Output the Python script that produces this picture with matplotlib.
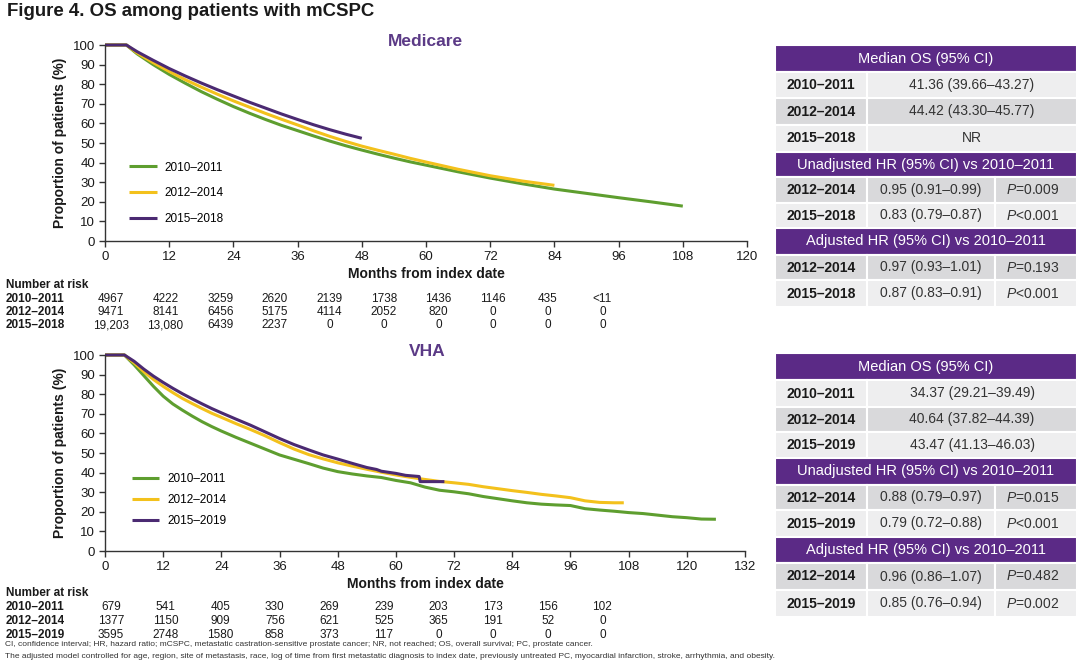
import matplotlib
matplotlib.use("Agg")
import matplotlib.pyplot as plt
from matplotlib import font_manager
from matplotlib.patches import Rectangle

# ---------------- data ----------------
months_ticks_top = [0, 12, 24, 36, 48, 60, 72, 84, 96, 108, 120]
months_ticks_bot = [0, 12, 24, 36, 48, 60, 72, 84, 96, 108, 120, 132]
y_ticks = [0, 10, 20, 30, 40, 50, 60, 70, 80, 90, 100]

labels_top = ["2010–2011", "2012–2014", "2015–2018"]
labels_bot = ["2010–2011", "2012–2014", "2015–2019"]

# Medicare KM curves (months, % surviving)
med_m_1011 = [0, 4, 6, 9, 12, 15, 18, 21, 24, 27, 30, 33, 36, 39, 42, 45, 48, 51, 54, 57, 60,
              66, 72, 78, 84, 90, 96, 102, 108]
med_v_1011 = [100, 100, 95.5, 90, 85, 80.5, 76.2, 72.3, 68.6, 65.2, 62, 59, 56.3, 53.6, 51.0, 48.6,
              46.4, 44.3, 42.3, 40.4, 38.7, 35.3, 32.1, 29.2, 26.5, 24.3, 22.1, 20, 17.8]
med_m_1214 = [0, 4, 6, 9, 12, 15, 18, 21, 24, 27, 30, 33, 36, 39, 42, 45, 48, 51, 54, 57, 60,
              66, 72, 78, 84]
med_v_1214 = [100, 100, 96, 91, 86.5, 82.3, 78.5, 74.9, 71.5, 68.3, 65.1, 62.1, 59.2, 56.2, 53.4,
              50.8, 48.4, 46.3, 44.3, 42.2, 40.3, 36.6, 33.3, 30.6, 28.4]
med_m_1518 = [0, 4, 6, 9, 12, 15, 18, 21, 24, 27, 30, 33, 36, 39, 42, 45, 48]
med_v_1518 = [100, 100, 96.6, 92.2, 88, 84.2, 80.6, 77.2, 74, 70.8, 67.8, 64.8, 62, 59.3, 56.8,
              54.5, 52.4]

# VHA KM curves
vha_m_1011 = [0, 4, 6, 8, 10, 12, 14, 16, 18, 20, 22, 24, 27, 30, 33, 36, 39, 42, 45, 48, 51, 54,
              57, 60, 63, 66, 69, 72, 75, 78, 81, 84, 87, 90, 93, 96, 99, 102, 105, 108, 111, 114,
              117, 120, 123, 126]
vha_v_1011 = [100, 100, 95, 89.5, 84, 79, 75, 71.8, 68.8, 66, 63.5, 61.2, 58, 55, 52, 49, 46.8,
              44.6, 42.3, 40.5, 39.3, 38.3, 37.5, 36, 34.8, 32.6, 31, 30.2, 29.2, 27.8, 26.7, 25.6,
              24.6, 23.9, 23.5, 23.2, 21.6, 20.9, 20.3, 19.6, 19.1, 18.3, 17.5, 17, 16.3, 16.2]
vha_m_1214 = [0, 4, 6, 8, 10, 12, 14, 16, 18, 20, 22, 24, 27, 30, 33, 36, 39, 42, 45, 48, 51, 54,
              57, 60, 63, 66, 69, 72, 75, 78, 81, 84, 87, 90, 93, 96, 99, 102, 105, 107]
vha_v_1214 = [100, 100, 96, 91.5, 87.5, 84, 80.8, 77.8, 75.2, 72.7, 70.3, 68.2, 65, 62, 58.8, 55.3,
              52, 49.2, 47, 45, 43.3, 41.7, 40.2, 38.8, 37.6, 36.5, 35.5, 34.8, 34, 32.8, 31.8,
              30.8, 29.9, 28.9, 28.1, 27.2, 25.6, 24.8, 24.6, 24.6]
vha_m_1519 = [0, 4, 6, 8, 10, 12, 14, 16, 18, 20, 22, 24, 27, 30, 33, 36, 39, 42, 45, 48, 51, 54,
              56, 57, 60, 62, 64.8, 65, 70]
vha_v_1519 = [100, 100, 96.8, 92.8, 89.2, 86, 83, 80.2, 77.6, 75.1, 72.7, 70.5, 67.3, 64.2, 60.8,
              57.4, 54.3, 51.6, 49, 46.9, 44.7, 42.6, 41.6, 40.7, 39.6, 38.6, 38, 35.4, 35.4]

# Number at risk
risk_top_1011 = ["4967", "4222", "3259", "2620", "2139", "1738", "1436", "1146", "435", "<11"]
risk_top_1214 = ["9471", "8141", "6456", "5175", "4114", "2052", "820", "0", "0", "0"]
risk_top_1518 = ["19,203", "13,080", "6439", "2237", "0", "0", "0", "0", "0", "0"]
risk_bot_1011 = ["679", "541", "405", "330", "269", "239", "203", "173", "156", "102"]
risk_bot_1214 = ["1377", "1150", "909", "756", "621", "525", "365", "191", "52", "0"]
risk_bot_1519 = ["3595", "2748", "1580", "858", "373", "117", "0", "0", "0", "0"]

# Tables
top_median = ["41.36 (39.66–43.27)", "44.42 (43.30–45.77)", "NR"]
top_unadj_hr = ["0.95 (0.91–0.99)", "0.83 (0.79–0.87)"]
top_unadj_p = ["=0.009", "<0.001"]
top_adj_hr = ["0.97 (0.93–1.01)", "0.87 (0.83–0.91)"]
top_adj_p = ["=0.193", "<0.001"]
bot_median = ["34.37 (29.21–39.49)", "40.64 (37.82–44.39)", "43.47 (41.13–46.03)"]
bot_unadj_hr = ["0.88 (0.79–0.97)", "0.79 (0.72–0.88)"]
bot_unadj_p = ["=0.015", "<0.001"]
bot_adj_hr = ["0.96 (0.86–1.07)", "0.85 (0.76–0.94)"]
bot_adj_p = ["=0.482", "=0.002"]

# ---------------- style ----------------
names = {f.name for f in font_manager.fontManager.ttflist}
NARROW = "Liberation Sans Narrow" if "Liberation Sans Narrow" in names else "Liberation Sans"
plt.rcParams["font.family"] = ["Liberation Sans", "DejaVu Sans"]
plt.rcParams["mathtext.fontset"] = "custom"
plt.rcParams["mathtext.it"] = "Liberation Sans:italic"
plt.rcParams["mathtext.rm"] = "Liberation Sans"

GREEN = "#5E9E2F"
YELLOW = "#F3C11C"
PURPLE = "#4B2A72"
HEAD = "#5B2A86"
LIGHT = "#EEEEEF"
DARK = "#D9D9DB"
TXT = "#1a1a1a"
colors = [GREEN, YELLOW, PURPLE]

W, H = 1087, 669
fig = plt.figure(figsize=(W / 100, H / 100), dpi=100)
fig.patch.set_facecolor("white")


def px_axes(x0, y0, x1, y1):
    a = fig.add_axes([x0 / W, 1 - y1 / H, (x1 - x0) / W, (y1 - y0) / H])
    a.patch.set_alpha(0)
    return a


def setup_axes(ax, xmax, xticks):
    ax.set_xlim(0, xmax)
    ax.set_ylim(0, 100)
    ax.set_xticks(xticks)
    ax.set_yticks(y_ticks)
    for s in ["top", "right"]:
        ax.spines[s].set_visible(False)
    for s in ["left", "bottom"]:
        ax.spines[s].set_color("#333333")
        ax.spines[s].set_linewidth(1.0)
    ax.tick_params(direction="out", length=4, width=1, color="#333333",
                   labelsize=9.5, labelcolor=TXT, pad=3)
    ax.set_ylabel("Proportion of patients (%)", fontsize=10, fontweight="bold",
                  color=TXT, labelpad=4)
    ax.set_xlabel("Months from index date", fontsize=10, fontweight="bold",
                  color=TXT, labelpad=3)


# ---- Medicare axes ----
ax1 = px_axes(105, 45, 747, 241)
setup_axes(ax1, 120, months_ticks_top)
l1 = []
for m, v, c, lab in zip([med_m_1011, med_m_1214, med_m_1518],
                        [med_v_1011, med_v_1214, med_v_1518], colors, labels_top):
    ln, = ax1.plot(m, v, color=c, lw=2.2, label=lab, clip_on=False, solid_capstyle="butt")
    l1.append(ln)
ax1.legend(handles=l1, loc="upper left", bbox_to_anchor=(0.038, 0.405), frameon=False,
           fontsize=8.5, handlelength=2.3, handletextpad=0.7, labelspacing=1.15,
           borderpad=0, borderaxespad=0)

# ---- VHA axes ----
ax2 = px_axes(105, 355, 745, 551)
setup_axes(ax2, 132, months_ticks_bot)
l2 = []
for m, v, c, lab in zip([vha_m_1011, vha_m_1214, vha_m_1519],
                        [vha_v_1011, vha_v_1214, vha_v_1519], colors, labels_bot):
    ln, = ax2.plot(m, v, color=c, lw=2.2, label=lab, clip_on=False, solid_capstyle="butt")
    l2.append(ln)
ax2.legend(handles=l2, loc="upper left", bbox_to_anchor=(0.042, 0.398), frameon=False,
           fontsize=8.5, handlelength=2.3, handletextpad=0.7, labelspacing=0.78,
           borderpad=0, borderaxespad=0)

# ---- overlay in pixel coordinates ----
ov = fig.add_axes([0, 0, 1, 1], zorder=-1)
ov.set_xlim(0, W)
ov.set_ylim(H, 0)
ov.axis("off")

ov.text(7, 12, "Figure 4. OS among patients with mCSPC", fontsize=13.4, fontweight="bold",
        color=TXT, va="center", ha="left")
ov.text(425, 42, "Medicare", fontsize=12.5, fontweight="bold", color="#5B3A86",
        va="center", ha="center")
ov.text(427, 351, "VHA", fontsize=12.5, fontweight="bold", color="#5B3A86",
        va="center", ha="center")


def risk_table(y0, labels, rows):
    ov.text(6, y0 + 3.5, "Number at risk", fontsize=8.5, fontweight="bold", family=NARROW,
            color=TXT, va="baseline", ha="left")
    for k, (lab, vals) in enumerate(zip(labels, rows)):
        yy = y0 + 14 + 13.5 * k + 3.5
        ov.text(6, yy, lab, fontsize=8.5, fontweight="bold", family=NARROW, color=TXT,
                va="baseline", ha="left")
        for i, v in enumerate(vals):
            ov.text(111 + 54.6 * i, yy, v, fontsize=8.5, family=NARROW, color=TXT,
                    va="baseline", ha="center")


risk_table(284, labels_top, [risk_top_1011, risk_top_1214, risk_top_1518])
risk_table(593, labels_bot, [risk_bot_1011, risk_bot_1214, risk_bot_1519])

ov.text(5, 645, "CI, confidence interval; HR, hazard ratio; mCSPC, metastatic castration-sensitive "
        "prostate cancer; NR, not reached; OS, overall survival; PC, prostate cancer.",
        fontsize=6.0, color="#333333", va="center", ha="left")
ov.text(5, 657, "The adjusted model controlled for age, region, site of metastasis, race, log of "
        "time from first metastatic diagnosis to index date, previously untreated PC, myocardial "
        "infarction, stroke, arrhythmia, and obesity.",
        fontsize=6.0, color="#333333", va="center", ha="left")

# ---- tables ----
X0, X1, X2, X3 = 775, 867, 995, 1077


def cell(x0, x1, y0, y1, fc):
    ov.add_patch(Rectangle((x0, y0), x1 - x0, y1 - y0, facecolor=fc, edgecolor="white",
                           lw=1.5))


def stat_table(ys, labels, median, uhr, up, ahr, ap):
    r = 0
    cell(X0, X3, ys[r], ys[r + 1], HEAD)
    ov.text((X0 + X3) / 2, (ys[r] + ys[r + 1]) / 2, "Median OS (95% CI)", fontsize=10.5,
            color="white", ha="center", va="center")
    r += 1
    for k in range(3):
        fc = LIGHT if k % 2 == 0 else DARK
        cell(X0, X1, ys[r], ys[r + 1], fc)
        cell(X1, X3, ys[r], ys[r + 1], fc)
        yc = (ys[r] + ys[r + 1]) / 2
        ov.text((X0 + X1) / 2, yc, labels[k], fontsize=10, fontweight="bold", color=TXT,
                ha="center", va="center")
        ov.text((X1 + X3) / 2, yc, median[k], fontsize=10, color="#333333",
                ha="center", va="center")
        r += 1
    for title, hrs, ps in [("Unadjusted HR (95% CI) vs 2010–2011", uhr, up),
                           ("Adjusted HR (95% CI) vs 2010–2011", ahr, ap)]:
        cell(X0, X3, ys[r], ys[r + 1], HEAD)
        ov.text((X0 + X3) / 2, (ys[r] + ys[r + 1]) / 2, title, fontsize=10.5,
                color="white", ha="center", va="center")
        r += 1
        for k in range(2):
            fc = DARK if k == 0 else LIGHT
            cell(X0, X1, ys[r], ys[r + 1], fc)
            cell(X1, X2, ys[r], ys[r + 1], fc)
            cell(X2, X3, ys[r], ys[r + 1], fc)
            yc = (ys[r] + ys[r + 1]) / 2
            ov.text((X0 + X1) / 2, yc, labels[k + 1], fontsize=10, fontweight="bold",
                    color=TXT, ha="center", va="center")
            ov.text((X1 + X2) / 2, yc, hrs[k], fontsize=10, color="#333333",
                    ha="center", va="center")
            ov.text((X2 + X3) / 2 - 3, yc, r"$\mathit{P}$" + ps[k], fontsize=10,
                    color="#333333", ha="center", va="center")
            r += 1


stat_table([45, 72, 98, 125, 152, 177, 203, 228, 255, 280, 307], labels_top,
           top_median, top_unadj_hr, top_unadj_p, top_adj_hr, top_adj_p)
stat_table([353, 380, 407, 432, 458, 485, 510, 537, 563, 590, 617], labels_bot,
           bot_median, bot_unadj_hr, bot_unadj_p, bot_adj_hr, bot_adj_p)

fig.savefig("out.png", dpi=100, facecolor="white")
